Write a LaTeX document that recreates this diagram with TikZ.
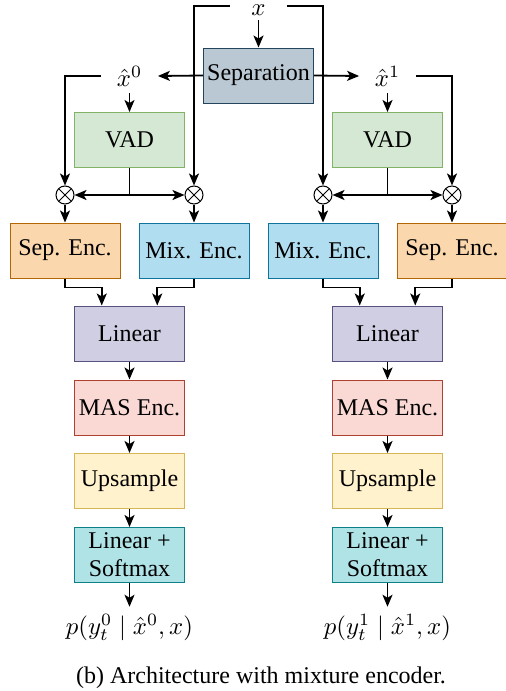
\documentclass[tikz,border=0pt]{standalone}
\usepackage{fontspec}
\setmainfont{Liberation Serif}
\usetikzlibrary{arrows.meta,calc}
\definecolor{sepF}{HTML}{BAC8D3}\definecolor{sepD}{HTML}{23445D}
\definecolor{vadF}{HTML}{D5E8D4}\definecolor{vadD}{HTML}{82B366}
\definecolor{seF}{HTML}{FAD7AC}\definecolor{seD}{HTML}{B46504}
\definecolor{mxF}{HTML}{B1DDF0}\definecolor{mxD}{HTML}{10739E}
\definecolor{linF}{HTML}{D0CEE2}\definecolor{linD}{HTML}{56517E}
\definecolor{masF}{HTML}{FAD9D5}\definecolor{masD}{HTML}{AE4132}
\definecolor{upF}{HTML}{FFF2CC}\definecolor{upD}{HTML}{D6B656}
\definecolor{smF}{HTML}{B0E3E6}\definecolor{smD}{HTML}{0E8088}
\newcommand{\mlbl}[1]{{\fontsize{10}{12}\selectfont\scalebox{1.24}{$#1$}}}
\begin{document}
\begin{tikzpicture}[x=0.5pt,y=-0.5pt,
  font=\fontsize{12}{14}\selectfont,
  box/.style={rectangle,draw,line width=0.5pt,minimum width=55pt,minimum height=27.5pt,inner sep=0pt,align=center},
  lbl/.style={inner sep=0pt,minimum width=28pt,minimum height=10pt},
  mult/.style={circle,draw,fill=white,line width=0.5pt,minimum size=9pt,inner sep=0pt,
    path picture={\draw[line width=0.5pt] ([shift={(45:4.5pt)}]path picture bounding box.center) -- ([shift={(225:4.5pt)}]path picture bounding box.center);
                  \draw[line width=0.5pt] ([shift={(135:4.5pt)}]path picture bounding box.center) -- ([shift={(315:4.5pt)}]path picture bounding box.center);}},
  arr/.style={line width=0.9pt,-{Stealth[length=6pt,width=5pt,inset=1.5pt]}},
  ln/.style={line width=0.9pt}]
\useasboundingbox (0,0) rectangle (505,691);
% top
\node[lbl] (x) at (258.5,10) {\mlbl{x}};
\node[box,fill=sepF,draw=sepD] (sep) at (258.5,75.5) {Separation};
\node[lbl,minimum height=17pt] (xh0) at (129.5,76) {\mlbl{\hat{x}^0}};
\node[lbl,minimum height=17pt] (xh1) at (387.5,76) {\mlbl{\hat{x}^1}};
\node[box,fill=vadF,draw=vadD] (vad0) at (129.5,140) {VAD};
\node[box,fill=vadF,draw=vadD] (vad1) at (387.5,140) {VAD};
% multipliers
\node[mult] (o0) at (65,195) {};
\node[mult] (o1) at (194,195) {};
\node[mult] (o2) at (323,195) {};
\node[mult] (o3) at (452,195) {};
% encoders
\node[box,fill=seF,draw=seD] (se0) at (65,250.5) {Sep. Enc.};
\node[box,fill=mxF,draw=mxD] (mx0) at (194,250.5) {Mix. Enc.};
\node[box,fill=mxF,draw=mxD] (mx1) at (323,250.5) {Mix. Enc.};
\node[box,fill=seF,draw=seD] (se1) at (452,250.5) {Sep. Enc.};
% stacks
\foreach \i/\cx in {0/129.5,1/387.5}{
  \node[box,fill=linF,draw=linD] (lin\i) at (\cx,333.5) {Linear};
  \node[box,fill=masF,draw=masD] (mas\i) at (\cx,407.5) {MAS Enc.};
  \node[box,fill=upF,draw=upD] (up\i) at (\cx,481) {Upsample};
  \node[box,fill=smF,draw=smD] (sm\i) at (\cx,555) {Linear +\\Softmax};
}
\node (p0) at (129.5,627) {\mlbl{p(y_t^0 \mid \hat{x}^0, x)}};
\node (p1) at (387.5,627) {\mlbl{p(y_t^1 \mid \hat{x}^1, x)}};
\node (cap) at (261,678) {(b) Architecture with mixture encoder.};
% connectors
\draw[arr] (x.south) -- (sep.north);
\draw[arr] (x.west) ++(0,-4) -| (o1.north);
\draw[arr] (x.east) ++(0,-4) -| (o2.north);
\draw[arr] (sep.west) -- (xh0.east);
\draw[arr] (sep.east) -- (xh1.west);
\draw[arr] (xh0.west) -| (o0.north);
\draw[arr] (xh1.east) -| (o3.north);
\draw[arr] (xh0.south) -- (vad0.north);
\draw[arr] (xh1.south) -- (vad1.north);
\draw[ln] (vad0.south) -- (vad0.south |- o0.center);
\draw[arr] (vad0.south |- o0.center) -- (o0.east);
\draw[arr] (vad0.south |- o0.center) -- (o1.west);
\draw[ln] (vad1.south) -- (vad1.south |- o2.center);
\draw[arr] (vad1.south |- o2.center) -- (o2.east);
\draw[arr] (vad1.south |- o2.center) -- (o3.west);
\draw[arr] (o0.south) -- (se0.north);
\draw[arr] (o1.south) -- (mx0.north);
\draw[arr] (o2.south) -- (mx1.north);
\draw[arr] (o3.south) -- (se1.north);
\draw[arr] (se0.south) -- ++(0,9) -| ($(lin0.north west)!0.25!(lin0.north east)$);
\draw[arr] (mx0.south) -- ++(0,9) -| ($(lin0.north west)!0.75!(lin0.north east)$);
\draw[arr] (mx1.south) -- ++(0,9) -| ($(lin1.north west)!0.25!(lin1.north east)$);
\draw[arr] (se1.south) -- ++(0,9) -| ($(lin1.north west)!0.75!(lin1.north east)$);
\foreach \i in {0,1}{
  \draw[arr] (lin\i.south) -- (mas\i.north);
  \draw[arr] (mas\i.south) -- (up\i.north);
  \draw[arr] (up\i.south) -- (sm\i.north);
  \draw[arr] (sm\i.south) -- (p\i.north);
}
\end{tikzpicture}
\end{document}
